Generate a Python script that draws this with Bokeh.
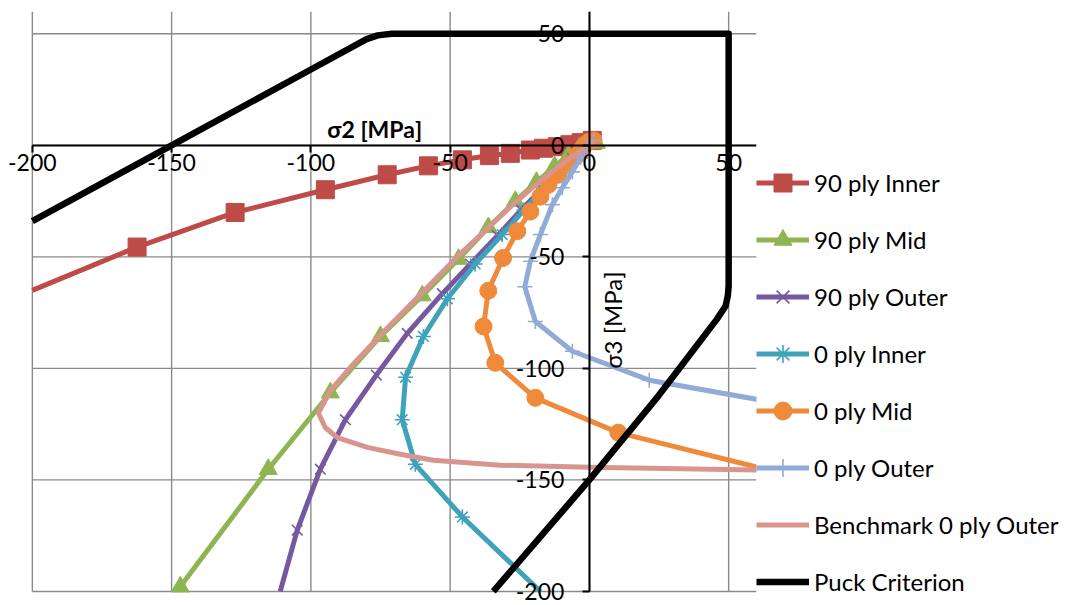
import math
from bokeh.plotting import figure
from bokeh.models import FixedTicker, Label, Legend, LegendItem
from bokeh.embed import file_html
from bokeh.resources import INLINE

# ---------------- data (sigma2 = x, sigma3 = y, MPa) ----------------
x_ticks = [-200, -150, -100, -50, 0, 50]
y_ticks = [-200, -150, -100, -50, 0, 50]
x_lim = (-200, 60)
y_lim = (-200, 60)

inner90_x = [-200.0, -162.4, -127.2, -94.8, -72.6, -57.8, -45.6, -35.9, -28.4, -21.2, -16.5, -11.5, -7.0, -3.0, 1.0]
inner90_y = [-65.0, -45.6, -30.1, -19.9, -13.2, -9.2, -6.5, -4.6, -3.6, -2.1, -1.3, -0.6, 0.3, 1.2, 2.2]

mid90_x = [-146.9, -115.3, -93.0, -75.0, -60.0, -47.0, -36.3, -26.6, -19.0, -12.5, -7.5, -3.5, 0.0, 2.5]
mid90_y = [-197.9, -145.2, -110.9, -85.6, -67.4, -51.0, -36.8, -25.0, -16.5, -9.5, -4.5, -1.0, 1.0, 1.0]

outer90_x = [-111.0, -104.9, -96.6, -87.6, -76.5, -65.4, -52.8, -42.7, -33.0, -24.5, -17.0, -11.0, -6.0, -2.0, 1.5]
outer90_y = [-200.0, -172.5, -145.2, -123.0, -103.0, -84.3, -66.5, -53.2, -40.5, -29.0, -19.5, -12.0, -6.0, -1.5, 2.0]

inner0_x = [1.5, -1.5, -5.5, -10.5, -16.5, -23.5, -31.3, -41.0, -51.0, -59.6, -66.0, -67.2, -62.5, -45.6, -17.6]
inner0_y = [2.0, -1.0, -6.0, -12.0, -19.5, -29.0, -40.0, -53.2, -68.8, -85.7, -104.0, -123.0, -143.0, -166.6, -200.0]

mid0_x = [1.5, -0.4, -2.2, -4.3, -7.5, -11.1, -14.7, -17.6, -21.2, -25.9, -31.0, -36.3, -38.0, -33.8, -19.4, 10.4, 80.0]
mid0_y = [2.2, 1.5, -0.8, -4.3, -8.8, -13.2, -17.7, -23.0, -29.7, -38.5, -50.5, -65.2, -81.2, -97.5, -113.2, -128.8, -150.4]

outer0_x = [1.5, -0.7, -3.2, -6.1, -9.7, -13.3, -17.6, -21.2, -23.2, -19.4, -6.1, 21.5, 90.0]
outer0_y = [2.2, 0.1, -5.6, -11.9, -19.0, -26.6, -40.0, -52.0, -63.4, -79.0, -92.3, -105.3, -120.5]

bench_x = [2.0, -5.0, -12.0, -20.0, -27.0, -34.5, -47.4, -60.0, -72.6, -84.0, -93.0, -97.3, -94.8, -90.5, -79.7, -67.9, -56.0, -32.0, 0.0, 60.0, 80.0]
bench_y = [2.0, -4.0, -10.5, -18.5, -26.0, -34.8, -49.9, -66.0, -82.0, -97.0, -110.0, -120.0, -126.6, -131.0, -135.4, -138.5, -141.2, -143.4, -144.3, -145.6, -146.0]

puck_x = [-200.0, -150, -100, -80, -76, -71, 50, 50, 49.7, 48.9, 45.8, 35.5, 24.8, 0.0, -34.5]
puck_y = [-34.0, 0.0, 34.0, 47.6, 49.3, 50.0, 50.0, -63.0, -67.5, -72.0, -77.9, -94.8, -112.3, -150.0, -200.0]

FONT = "Lato"
TICK_SIZE = "23px"
PX_X = 724 / 260.0   # pixels per MPa along sigma2
PX_Y = 580 / 260.0   # pixels per MPa along sigma3
PAD_X = 10.0         # room (MPa) left of -200 for the edge tick label
PAD_Y = 6.3          # room (MPa) below -200 for the edge tick label

p = figure(frame_width=round((x_lim[1] - x_lim[0] + PAD_X) * PX_X),
           frame_height=round((y_lim[1] - y_lim[0] + PAD_Y) * PX_Y),
           x_range=(x_lim[0] - PAD_X, x_lim[1]), y_range=(y_lim[0] - PAD_Y, y_lim[1]),
           output_backend="svg", toolbar_location=None,
           min_border_left=4, min_border_right=0,
           min_border_top=11, min_border_bottom=0)
p.outline_line_color = None
p.background_fill_color = "white"
p.grid.visible = False

# grid lines limited to the chart area
p.segment(x0=x_ticks, y0=[y_lim[0]] * len(x_ticks), x1=x_ticks, y1=[y_lim[1]] * len(x_ticks),
          line_color="#8a8a8a", line_width=1.4)
p.segment(x0=[x_lim[0]] * len(y_ticks), y0=y_ticks, x1=[x_lim[1]] * len(y_ticks), y1=y_ticks,
          line_color="#8a8a8a", line_width=1.4)

# axes crossing at the origin
for ax, ticks, lim in ((p.xaxis, x_ticks, x_lim), (p.yaxis, y_ticks, y_lim)):
    ax.fixed_location = 0
    ax.bounds = lim
    ax.ticker = FixedTicker(ticks=ticks)
    ax.major_label_overrides = {t: str(t) for t in ticks}
    ax.axis_line_color = "black"
    ax.axis_line_width = 2
    ax.major_tick_line_color = "black"
    ax.major_tick_line_width = 2
    ax.major_tick_in = 0
    ax.major_tick_out = 7
    ax.minor_tick_line_color = None
    ax.major_label_text_font = FONT
    ax.major_label_text_font_size = TICK_SIZE
    ax.major_label_text_color = "black"
p.xaxis.major_label_standoff = 2
p.yaxis.major_label_standoff = 18

series = [
    ("90 ply Inner", inner90_x, inner90_y, "#BE4B48", "square", 18, 0),
    ("90 ply Mid", mid90_x, mid90_y, "#8FB552", "triangle", 18, 0),
    ("90 ply Outer", outer90_x, outer90_y, "#7558A0", "x", 15, 1.6),
    ("0 ply Inner", inner0_x, inner0_y, "#3FA2BB", "asterisk", 15, 1.6),
    ("0 ply Mid", mid0_x, mid0_y, "#EE8A3A", "circle", 17, 0),
    ("0 ply Outer", outer0_x, outer0_y, "#92AAD6", "cross", 15, 1.6),
]


def inside(xs, ys):
    """Points strictly inside the chart area (edge points only carry the line)."""
    pts = [(x, y) for x, y in zip(xs, ys)
           if x_lim[0] < x < x_lim[1] and y_lim[0] < y < y_lim[1]]
    return [a for a, _ in pts], [b for _, b in pts]


items = []
for name, xs, ys, col, mk, sz, mlw in series:
    lr = p.line(xs, ys, line_color=col, line_width=5, line_join="round", line_cap="butt")
    mx, my = inside(xs, ys)
    if mlw == 0:
        sr = p.scatter(mx, my, marker=mk, size=sz, fill_color=col, line_color=col, line_width=1)
    else:
        sr = p.scatter(mx, my, marker=mk, size=sz, line_color=col, line_width=mlw)
    items.append(LegendItem(label=name, renderers=[lr, sr]))

br = p.line(bench_x, bench_y, line_color="#D8958F", line_width=5, line_join="round", line_cap="butt")
items.append(LegendItem(label="Benchmark 0 ply Outer", renderers=[br]))
kr = p.line(puck_x, puck_y, line_color="black", line_width=6.5, line_join="round", line_cap="butt")
items.append(LegendItem(label="Puck Criterion", renderers=[kr]))

legend = Legend(items=items, location=(0, 1), orientation="vertical",
                glyph_width=53, glyph_height=45, label_standoff=5, spacing=12,
                padding=0, margin=0, border_line_alpha=0, background_fill_alpha=0,
                label_text_font=FONT, label_text_font_size="24px", label_text_color="black")
p.add_layout(legend, "right")

p.add_layout(Label(x=-77.2, y=0, y_offset=2, text="σ2 [MPa]", text_align="center",
                   text_baseline="bottom", text_font=FONT, text_font_size="23px",
                   text_font_style="bold", text_color="black"))
p.add_layout(Label(x=8.3, y=-78.5, text="σ3 [MPa]", angle=math.pi / 2,
                   text_align="center", text_baseline="middle", text_font=FONT,
                   text_font_size="24px", text_color="black"))

open("out.html", "w").write(file_html(p, INLINE))
